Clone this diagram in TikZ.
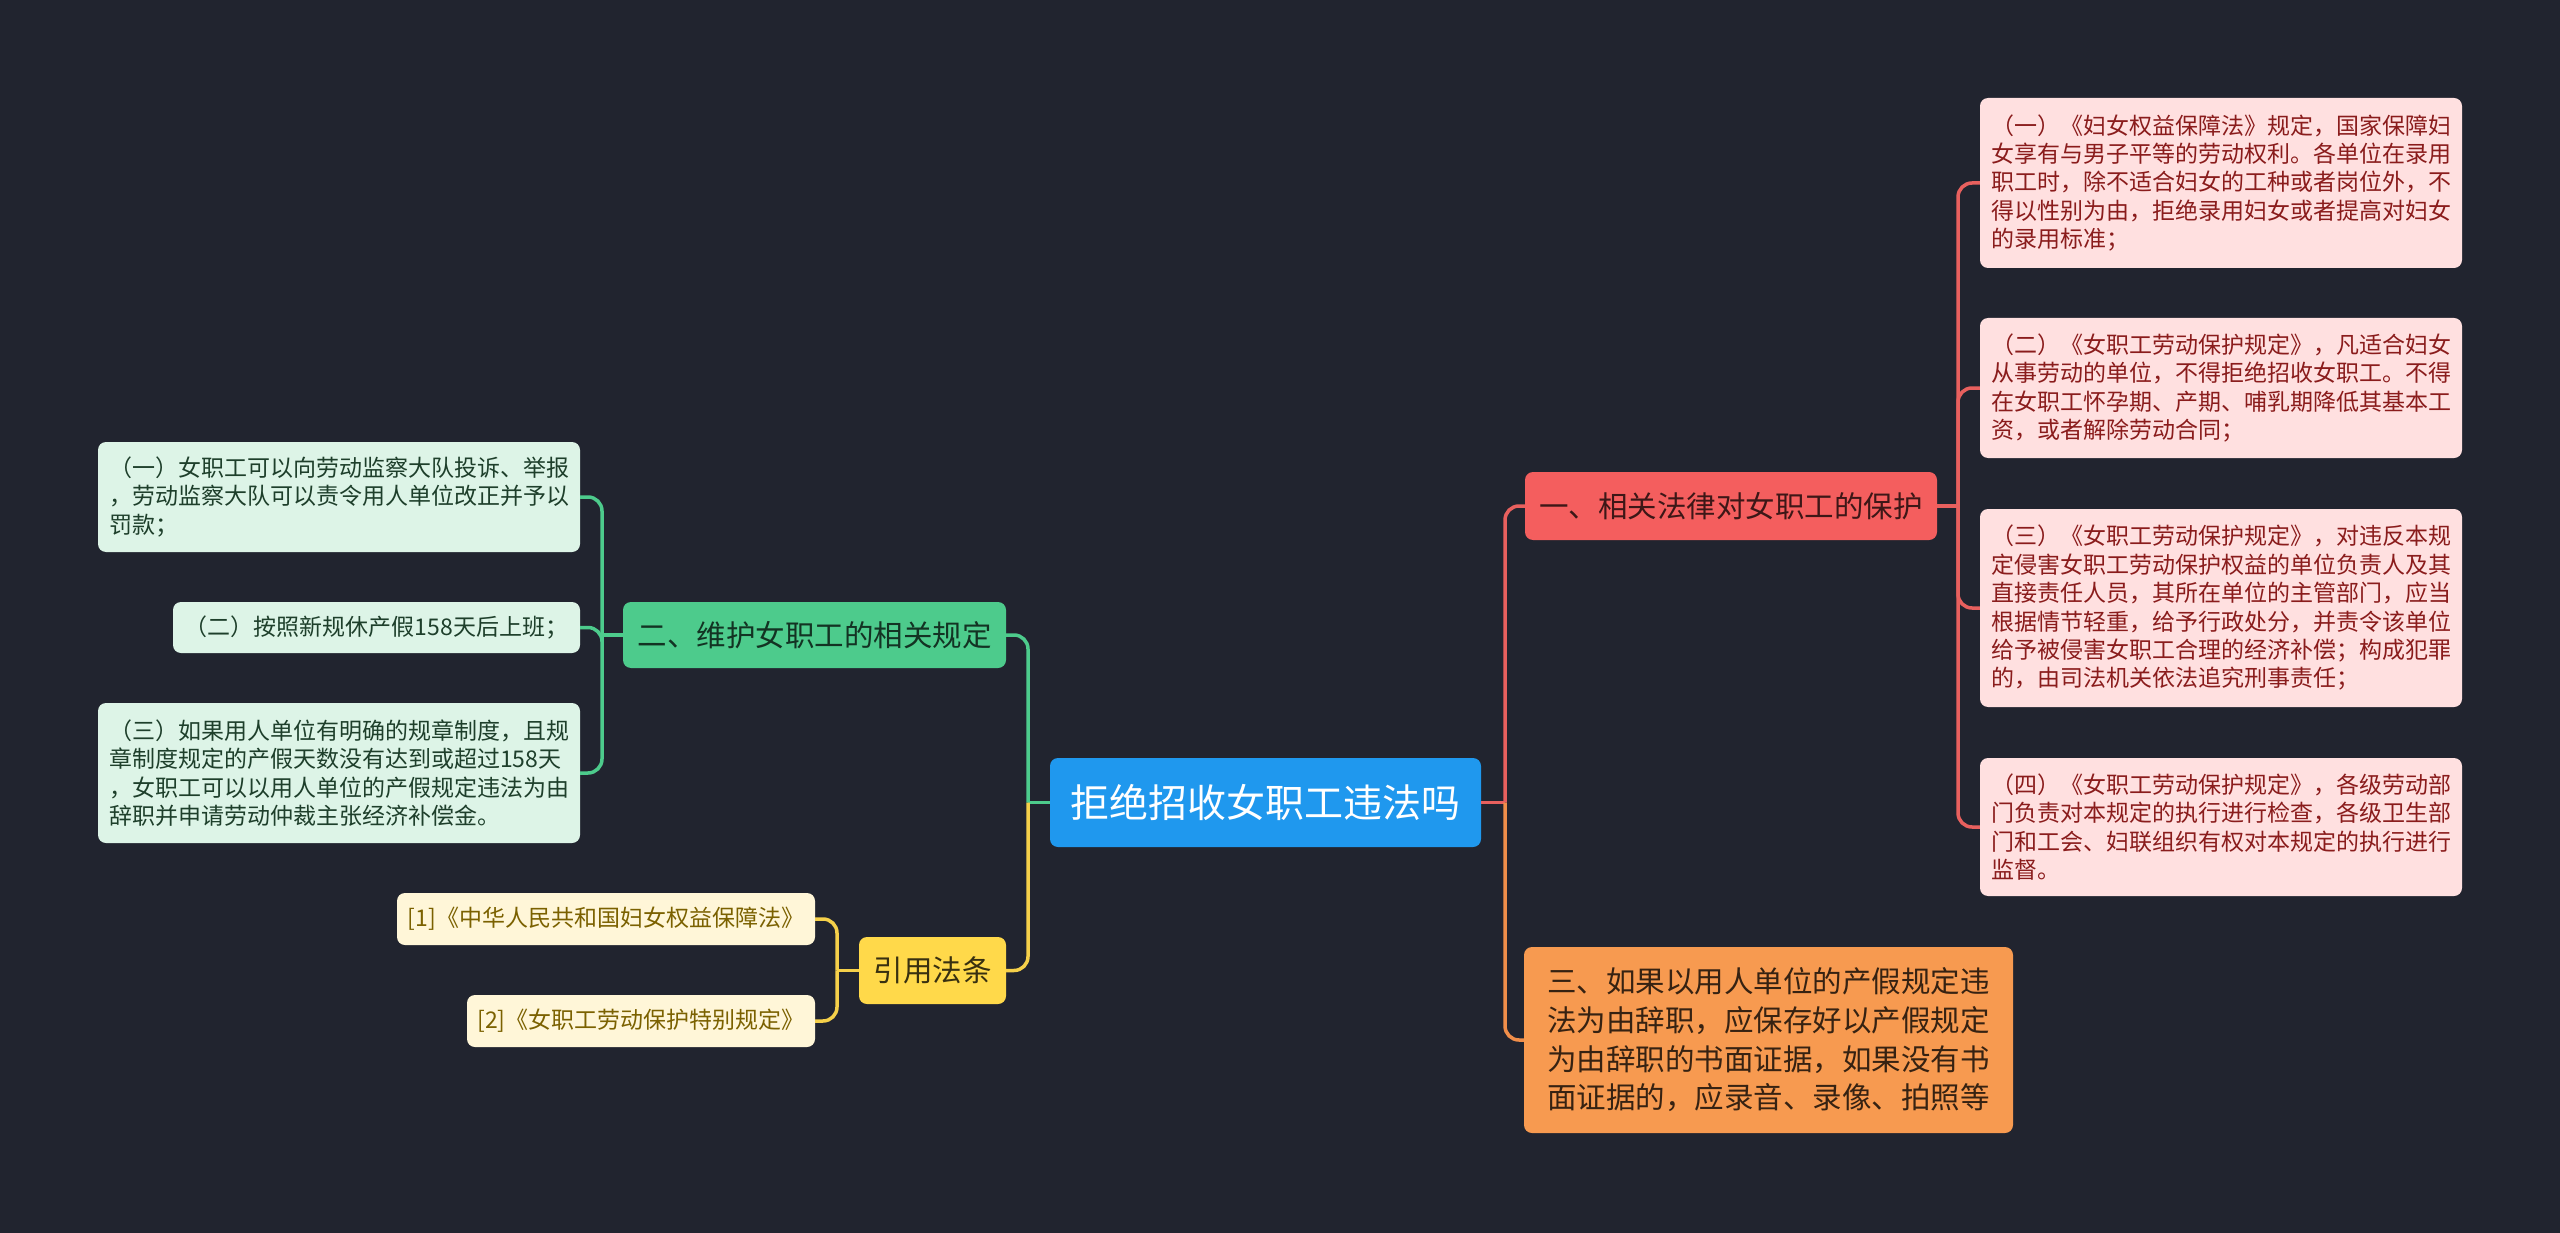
\documentclass[tikz,border=0pt]{standalone}
\usepackage{fontspec}
\setmainfont{Noto Sans CJK SC}
\definecolor{bgc}{HTML}{21242F}
\definecolor{bluec}{HTML}{1F98EE}
\definecolor{redc}{HTML}{F45E5E}
\definecolor{orangec}{HTML}{F79A50}
\definecolor{greenc}{HTML}{4DCB8C}
\definecolor{yellowc}{HTML}{FFD94A}
\definecolor{pinkleaf}{HTML}{FFE0E0}
\definecolor{pinktext}{HTML}{8A1C1C}
\definecolor{gleaf}{HTML}{DDF4E7}
\definecolor{gtext}{HTML}{1E3F2B}
\definecolor{yleaf}{HTML}{FFF6D8}
\definecolor{ytext}{HTML}{7B6100}
\definecolor{redline}{HTML}{E8605E}
\definecolor{greenline}{HTML}{4DCB8C}
\definecolor{yellowline}{HTML}{F5D04A}
\definecolor{orangeline}{HTML}{F08E4A}
\tikzset{
  box/.style={rounded corners=8pt, inner sep=0pt, align=left},
  leaftxt/.style={font=\fontsize{23}{28.4}\selectfont},
  maintxt/.style={font=\fontsize{29.5}{38.7}\selectfont},
  rleaf/.style={box, leaftxt, fill=pinkleaf, text=pinktext, minimum width=482pt},
  gleafbox/.style={box, leaftxt, fill=gleaf, text=gtext},
  yleafbox/.style={box, leaftxt, fill=yleaf, text=ytext, minimum height=52pt},
  conn/.style={line width=3.5pt, rounded corners=14pt},
}
\begin{document}
\begin{tikzpicture}[x=1pt,y=-1pt]
\path[use as bounding box, fill=bgc] (0,0) rectangle (2560,1233);

% central
\node[box, fill=bluec, text=white, font=\fontsize{39}{46}\selectfont, minimum width=431pt, minimum height=89pt] (c) at (1265.5,802.5) {拒绝招收女职工违法吗};

% main branches
\node[box, maintxt, fill=redc, text=black!75!redc, minimum width=412pt, minimum height=68pt] (r) at (1731,506) {一、相关法律对女职工的保护};
\node[box, maintxt, fill=orangec, text=black!78!orangec, minimum width=489pt, minimum height=186pt] (o) at (1768.5,1040) {三、如果以用人单位的产假规定违\\法为由辞职，应保存好以产假规定\\为由辞职的书面证据，如果没有书\\面证据的，应录音、录像、拍照等};
\node[box, maintxt, fill=greenc, text=black!75!greenc, minimum width=383pt, minimum height=66pt] (g) at (814.5,635) {二、维护女职工的相关规定};
\node[box, maintxt, fill=yellowc, text=black!78!yellowc, minimum width=147pt, minimum height=67pt] (y) at (932.5,970.5) {引用法条};

% right leaves
\node[rleaf, minimum height=170pt] (r1) at (2221,183) {（一）《妇女权益保障法》规定，国家保障妇\\女享有与男子平等的劳动权利。各单位在录用\\职工时，除不适合妇女的工种或者岗位外，不\\得以性别为由，拒绝录用妇女或者提高对妇女\\的录用标准；};
\node[rleaf, minimum height=140pt] (r2) at (2221,388) {（二）《女职工劳动保护规定》，凡适合妇女\\从事劳动的单位，不得拒绝招收女职工。不得\\在女职工怀孕期、产期、哺乳期降低其基本工\\资，或者解除劳动合同；};
\node[rleaf, minimum height=198pt] (r3) at (2221,608) {（三）《女职工劳动保护规定》，对违反本规\\定侵害女职工劳动保护权益的单位负责人及其\\直接责任人员，其所在单位的主管部门，应当\\根据情节轻重，给予行政处分，并责令该单位\\给予被侵害女职工合理的经济补偿；构成犯罪\\的，由司法机关依法追究刑事责任；};
\node[rleaf, minimum height=138pt] (r4) at (2221,827) {（四）《女职工劳动保护规定》，各级劳动部\\门负责对本规定的执行进行检查，各级卫生部\\门和工会、妇联组织有权对本规定的执行进行\\监督。};

% left green leaves
\node[gleafbox, minimum width=482pt, minimum height=110pt] (g1) at (339,497) {（一）女职工可以向劳动监察大队投诉、举报\\，劳动监察大队可以责令用人单位改正并予以\\罚款；};
\node[gleafbox, minimum width=407pt, minimum height=51pt] (g2) at (376.5,627.5) {（二）按照新规休产假158天后上班；};
\node[gleafbox, minimum width=482pt, minimum height=140pt] (g3) at (339,773) {（三）如果用人单位有明确的规章制度，且规\\章制度规定的产假天数没有达到或超过158天\\，女职工可以以用人单位的产假规定违法为由\\辞职并申请劳动仲裁主张经济补偿金。};

% references
\node[yleafbox, minimum width=418pt] (y1) at (606,919) {[1]《中华人民共和国妇女权益保障法》};
\node[yleafbox, minimum width=348pt] (y2) at (641,1021) {[2]《女职工劳动保护特别规定》};

% junction coordinates
\coordinate (jl) at (1028,802.5);
\coordinate (jr) at (1505,802.5);
\coordinate (jred) at (1958,506);
\coordinate (jg) at (602,635);
\coordinate (jy) at (837,970.5);

% central connectors
\draw[conn, greenline] (c.west) -- (jl);
\draw[conn, greenline] (jl) |- (g.east);
\draw[conn, yellowline] (jl) |- (y.east);
\draw[conn, redline] (c.east) -- (jr);
\draw[conn, redline] (jr) |- (r.west);
\draw[conn, orangeline] (jr) |- (o.west);

% red to leaves
\draw[conn, redline] (r.east) -- (jred);
\foreach \n in {r1,r2,r3,r4} \draw[conn, redline] (jred) |- (\n.west);

% green to leaves
\draw[conn, greenline] (g.west) -- (jg);
\foreach \n in {g1,g2,g3} \draw[conn, greenline] (jg) |- (\n.east);

% yellow to refs
\draw[conn, yellowline] (y.west) -- (jy);
\foreach \n in {y1,y2} \draw[conn, yellowline] (jy) |- (\n.east);
\end{tikzpicture}
\end{document}
